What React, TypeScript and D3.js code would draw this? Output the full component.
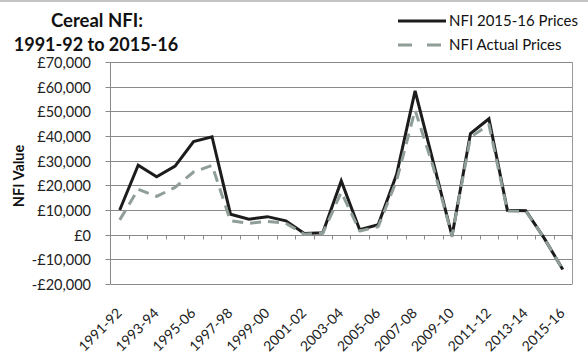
import React from "react";
import * as d3 from "d3";

const seasons = [
  "1991-92", "1992-93", "1993-94", "1994-95", "1995-06", "1996-97", "1997-98",
  "1998-99", "1999-00", "2000-01", "2001-02", "2002-03", "2003-04", "2004-05",
  "2005-06", "2006-07", "2007-08", "2008-09", "2009-10", "2010-11", "2011-12",
  "2012-13", "2013-14", "2014-15", "2015-16",
];

// NFI in 2015-16 prices (£)
const nfiReal = [
  10000, 28200, 23500, 27800, 37700, 39700, 8300, 6300, 7300, 5600, 500, 800,
  21800, 2000, 4000, 24500, 58300, 29000, -500, 41000, 47000, 9900, 9700, -1500,
  -14100,
];

// NFI in actual prices (£)
const nfiActual = [
  6000, 18400, 15500, 19200, 25400, 28100, 5600, 4600, 5400, 4600, 200, 600,
  17200, 1500, 3200, 22000, 50500, 27000, -500, 39500, 44600, 9600, 9500, -1500,
  -14100,
];

const yTicks = [-20000, -10000, 0, 10000, 20000, 30000, 40000, 50000, 60000, 70000];
const labelledSeasons = seasons.filter((_, i) => i % 2 === 0);

const W = 588;
const H = 354;
const FONT = "Lato, 'Open Sans', sans-serif";

export default function App() {
  const x = d3.scaleBand<string>().domain(seasons).range([110.5, 572]).padding(0);
  const y = d3.scaleLinear().domain([-20000, 70000]).range([284, 62]);
  const cx = (s: string) => (x(s) as number) + x.bandwidth() / 2;

  const line = d3
    .line<number>()
    .x((_, i) => cx(seasons[i]))
    .y((v) => y(v));

  const fmt = (v: number) =>
    (v < 0 ? "-" : "") + "£" + d3.format(",")(Math.abs(v));

  const left = 110.5;
  const right = 572;
  const zeroY = Math.round(y(0)) + 0.5;

  return (
    <svg
      width={W}
      height={H}
      style={{ position: "absolute", left: 0, top: 0, background: "#fff" }}
      fontFamily={FONT}
    >
      <rect x={0} y={0} width={W} height={H} fill="#fff" />
      <line x1={0} x2={W} y1={1} y2={1} stroke="#c4c4c4" strokeWidth={2} />

      {/* title */}
      <text x={97} y={27} textAnchor="middle" fontSize={18.5} fontWeight="bold" fill="#111">
        Cereal NFI:
      </text>
      <text x={96} y={51} textAnchor="middle" fontSize={18} fontWeight="bold" fill="#111">
        1991-92 to 2015-16
      </text>

      {/* gridlines and y ticks */}
      {yTicks.map((t) => {
        const yy = Math.round(y(t)) + 0.5;
        return (
          <g key={t}>
            <line x1={left} x2={right} y1={yy} y2={yy} stroke="#8a8a8a" strokeWidth={1} />
            <line x1={left - 5} x2={left} y1={yy} y2={yy} stroke="#8a8a8a" strokeWidth={1} />
            <text
              x={91}
              y={yy}
              dy="0.35em"
              textAnchor="end"
              fontSize={14.5}
              fill="#222"
            >
              {fmt(t)}
            </text>
          </g>
        );
      })}

      {/* plot frame */}
      <line x1={left} x2={left} y1={y(70000)} y2={y(-20000)} stroke="#8a8a8a" strokeWidth={1} />
      <line x1={right + 0.5} x2={right + 0.5} y1={y(70000)} y2={y(-20000) + 0.5} stroke="#9a9a9a" strokeWidth={1} />

      {/* category ticks on the zero line */}
      {seasons.map((s, i) => {
        const xx = Math.round(x(s) as number) + 0.5;
        return i === 0 ? null : (
          <line key={s} x1={xx} x2={xx} y1={zeroY} y2={zeroY + 4} stroke="#8a8a8a" strokeWidth={1} />
        );
      })}
      <line x1={right} x2={right} y1={zeroY} y2={zeroY + 4} stroke="#8a8a8a" strokeWidth={1} />

      {/* y axis title */}
      <text
        transform={`translate(24,176) rotate(-90)`}
        textAnchor="middle"
        fontSize={14.5}
        fontWeight="bold"
        fill="#111"
      >
        NFI Value
      </text>

      {/* x labels */}
      {labelledSeasons.map((s) => (
        <text
          key={s}
          transform={`translate(${cx(s) + 3},${314}) rotate(-45)`}
          textAnchor="end"
          fontSize={14}
          fill="#222"
        >
          {s}
        </text>
      ))}

      {/* series */}
      <path d={line(nfiReal) || ""} fill="none" stroke="#1c1c1c" strokeWidth={3} strokeLinejoin="miter" />
      <path
        d={line(nfiActual) || ""}
        fill="none"
        stroke="#8f9e96"
        strokeWidth={3}
        strokeDasharray="11,7"
        strokeLinejoin="round"
      />

      {/* legend */}
      <line x1={398} x2={446} y1={21} y2={21} stroke="#1c1c1c" strokeWidth={3} />
      <text x={449} y={21} dy="0.35em" fontSize={15} fill="#111">
        NFI 2015-16 Prices
      </text>
      <line x1={398} x2={446} y1={45} y2={45} stroke="#8f9e96" strokeWidth={3} strokeDasharray="14,15" />
      <text x={449} y={45} dy="0.35em" fontSize={15} fill="#111">
        NFI Actual Prices
      </text>
    </svg>
  );
}
